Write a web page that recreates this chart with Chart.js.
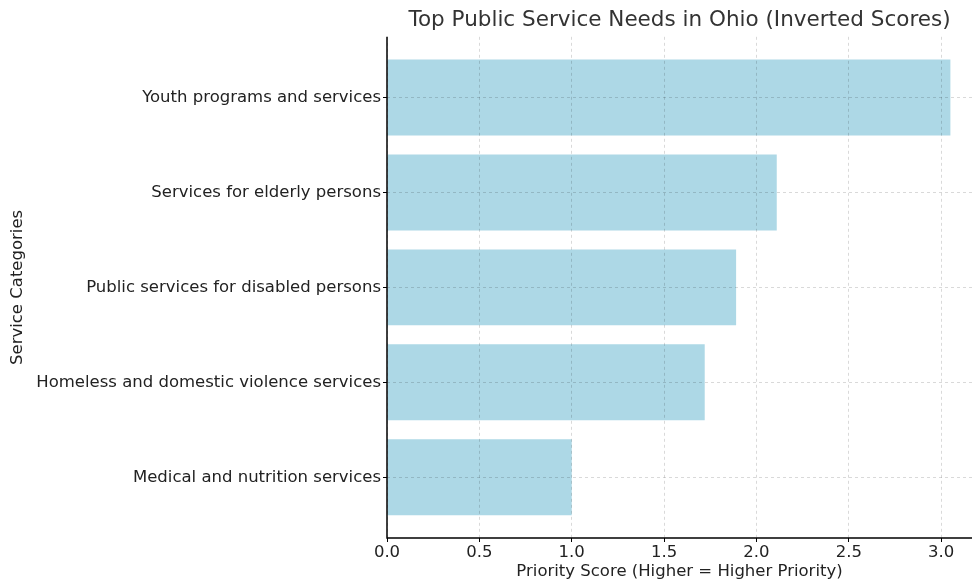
<!DOCTYPE html>
<html>
<head>
<meta charset="utf-8">
<script src="https://cdn.jsdelivr.net/npm/chart.js@4"></script>
<style>
  html, body { margin: 0; padding: 0; background: #fff; }
  #wrap { width: 972px; height: 582px; }
</style>
</head>
<body>
<div id="wrap"><canvas id="grafik"></canvas></div>
<script>
// Data chart
const kategori = [
  'Youth programs and services',
  'Services for elderly persons',
  'Public services for disabled persons',
  'Homeless and domestic violence services',
  'Medical and nutrition services'
];
const skor = [3.05, 2.11, 1.89, 1.72, 1.0];
const tickX = [0, 0.5, 1.0, 1.5, 2.0, 2.5, 3.0];

const font = 'DejaVu Sans';
const gridStyle = {
  color: 'rgba(0,0,0,0.15)',
  lineWidth: 1,
  offset: false,
  z: 1,
  tickColor: '#000',
  tickBorderDash: [],
  tickLength: 4,
  tickWidth: 1
};
const borderStyle = { display: false, dash: [3, 3] };

// Garis sumbu kiri dan bawah (solid)
const garisSumbu = {
  id: 'garisSumbu',
  afterDraw(chart) {
    const { ctx, chartArea: a } = chart;
    ctx.save();
    ctx.strokeStyle = '#000';
    ctx.lineWidth = 1.5;
    ctx.setLineDash([]);
    ctx.beginPath();
    ctx.moveTo(a.left, a.top);
    ctx.lineTo(a.left, a.bottom);
    ctx.lineTo(a.right, a.bottom);
    ctx.stroke();
    ctx.restore();
  }
};

const ctx = document.getElementById('grafik').getContext('2d');
new Chart(ctx, {
  type: 'bar',
  data: {
    datasets: [{
      data: skor.map((v, i) => ({ x: v, y: i })),
      backgroundColor: '#ADD8E6',
      borderWidth: 0,
      barPercentage: 0.8,
      categoryPercentage: 1.0
    }]
  },
  plugins: [garisSumbu],
  options: {
    indexAxis: 'y',
    responsive: true,
    maintainAspectRatio: false,
    animation: false,
    layout: { padding: 0 },
    plugins: {
      legend: { display: false },
      tooltip: { enabled: false },
      title: {
        display: true,
        fullSize: false,
        text: 'Top Public Service Needs in Ohio (Inverted Scores)',
        color: '#333',
        font: { family: font, size: 21.5, weight: 'normal' },
        padding: { top: 8, bottom: 3 }
      }
    },
    scales: {
      x: {
        type: 'linear',
        position: 'bottom',
        min: 0,
        max: 3.167,
        afterBuildTicks: ax => { ax.ticks = tickX.map(v => ({ value: v })); },
        afterFit: ax => { ax.height = 44; },
        ticks: {
          callback: v => Number(v).toFixed(1),
          color: '#222',
          font: { family: font, size: 16.5 },
          padding: 1,
          maxRotation: 0
        },
        grid: gridStyle,
        border: borderStyle,
        title: {
          display: true,
          text: 'Priority Score (Higher = Higher Priority)',
          color: '#222',
          font: { family: font, size: 16.5 },
          padding: { top: 0, bottom: 0 }
        }
      },
      y: {
        type: 'linear',
        min: -0.64,
        max: 4.64,
        reverse: true,
        offset: false,
        afterBuildTicks: ax => { ax.ticks = kategori.map((_, i) => ({ value: i })); },
        afterFit: ax => { ax.width = 387; },
        ticks: {
          callback: v => kategori[v] || '',
          color: '#222',
          font: { family: font, size: 16.5 },
          padding: 2
        },
        grid: gridStyle,
        border: borderStyle,
        title: {
          display: true,
          text: 'Service Categories',
          color: '#222',
          font: { family: font, size: 16.5 },
          padding: { top: 8, bottom: 0 }
        }
      }
    }
  }
});
</script>
</body>
</html>
